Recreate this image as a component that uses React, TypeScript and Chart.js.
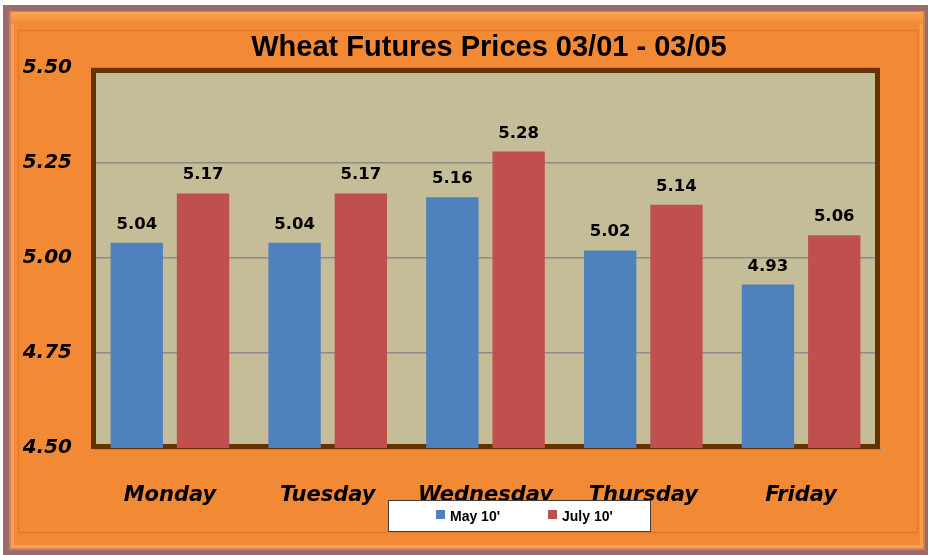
import React, { useEffect, useRef } from "react";
import { Chart, registerables } from "chart.js";

Chart.register(...registerables);

const TITLE = "Wheat Futures Prices 03/01 - 03/05";
const categories = ["Monday", "Tuesday", "Wednesday", "Thursday", "Friday"];
const seriesNames = ["May 10'", "July 10'"];
const may10 = [5.04, 5.04, 5.16, 5.02, 4.93];
const july10 = [5.17, 5.17, 5.28, 5.14, 5.06];
const yMin = 4.5;
const yMax = 5.5;
const yStep = 0.25;

const BLUE = "#4F81BD";
const RED = "#C0504D";

const framePlugin = {
  id: "frame",
  beforeDraw(chart: any) {
    const ctx = chart.ctx as CanvasRenderingContext2D;
    const W = chart.width;
    const H = chart.height;
    ctx.save();
    ctx.fillStyle = "#ffffff";
    ctx.fillRect(0, 0, W, H);
    ctx.fillStyle = "#9E6A6A";
    ctx.fillRect(3, 5, W - 3, H - 5);
    ctx.fillStyle = "#C7865A";
    ctx.fillRect(9, 11, W - 12, H - 16);
    ctx.fillStyle = "#FF9E4E";
    ctx.fillRect(11, 12, W - 16, H - 19);
    ctx.fillStyle = "#F28A35";
    ctx.fillRect(14, 20, W - 22, H - 30);
    const g = ctx.createLinearGradient(0, 12, 0, 24);
    g.addColorStop(0, "#FFA552");
    g.addColorStop(1, "#F28A35");
    ctx.fillStyle = g;
    ctx.fillRect(11, 12, W - 16, 12);
    ctx.strokeStyle = "#E07A28";
    ctx.lineWidth = 1.5;
    ctx.strokeRect(18.5, 30.5, 899, 502);
    const ca = chart.chartArea;
    ctx.fillStyle = "#C4BD97";
    ctx.fillRect(ca.left, ca.top, ca.right - ca.left, ca.bottom - ca.top);
    ctx.restore();
  },
  beforeDatasetsDraw(chart: any) {
    const ctx = chart.ctx as CanvasRenderingContext2D;
    const ca = chart.chartArea;
    ctx.save();
    ctx.strokeStyle = "#8C8C8C";
    ctx.lineWidth = 2;
    ctx.beginPath();
    ctx.moveTo(ca.left + 2, ca.bottom + 1);
    ctx.lineTo(ca.right + 1, ca.bottom + 1);
    ctx.stroke();
    ctx.strokeStyle = "#663300";
    ctx.lineWidth = 5;
    ctx.strokeRect(ca.left + 2.5, ca.top + 2.5, ca.right - ca.left - 5, ca.bottom - ca.top - 4);
    ctx.restore();
  },
  afterDraw(chart: any) {
    const ctx = chart.ctx as CanvasRenderingContext2D;
    ctx.save();
    ctx.fillStyle = "#000000";
    ctx.font = 'bold 29px "Liberation Sans", Arial, sans-serif';
    ctx.textAlign = "center";
    ctx.textBaseline = "alphabetic";
    ctx.fillText(TITLE, 489, 56);

    ctx.font = 'bold 16.5px "DejaVu Sans", sans-serif';
    ctx.textAlign = "center";
    chart.data.datasets.forEach((ds: any, di: number) => {
      const meta = chart.getDatasetMeta(di);
      meta.data.forEach((el: any, i: number) => {
        ctx.fillText(Number(ds.data[i]).toFixed(2), el.x, el.y - 14);
      });
    });

    const lx = 388, ly = 500, lw = 263, lh = 32;
    ctx.fillStyle = "#ffffff";
    ctx.fillRect(lx, ly, lw, lh);
    ctx.strokeStyle = "#404040";
    ctx.lineWidth = 1;
    ctx.strokeRect(lx + 0.5, ly + 0.5, lw - 1, lh - 1);
    const items = [
      { x: 436, color: BLUE, text: seriesNames[0] },
      { x: 548, color: RED, text: seriesNames[1] },
    ];
    ctx.font = 'bold 14px "Liberation Sans", Arial, sans-serif';
    ctx.textAlign = "left";
    ctx.textBaseline = "middle";
    items.forEach((it) => {
      ctx.fillStyle = it.color;
      ctx.fillRect(it.x, 510, 9, 9);
      ctx.fillStyle = "#000000";
      ctx.fillText(it.text, it.x + 14, 517);
    });
    ctx.restore();
  },
};

export default function App() {
  const ref = useRef<HTMLCanvasElement | null>(null);
  useEffect(() => {
    if (!ref.current) return;
    const chart = new Chart(ref.current, {
      type: "bar",
      data: {
        labels: categories,
        datasets: [
          { label: seriesNames[0], data: may10, backgroundColor: BLUE, categoryPercentage: 0.84, barPercentage: 0.79 },
          { label: seriesNames[1], data: july10, backgroundColor: RED, categoryPercentage: 0.84, barPercentage: 0.79 },
        ],
      },
      options: {
        responsive: false,
        animation: false,
        layout: { padding: { left: 0, top: 68, right: 48, bottom: 37 } },
        plugins: {
          legend: { display: false },
          title: { display: false },
          tooltip: { enabled: false },
        },
        scales: {
          x: {
            clip: false,
            grid: { display: false, drawTicks: false },
            border: { display: false },
            ticks: {
              color: "#000000",
              padding: 35,
              font: { family: '"DejaVu Sans", sans-serif', size: 21, weight: "bold", style: "italic" },
            },
            afterFit: (s: any) => {
              s.height = 70;
            },
          },
          y: {
            min: yMin,
            max: yMax,
            grid: { color: "#8C8C8C", lineWidth: 1.5, drawTicks: false },
            border: { display: false },
            ticks: {
              stepSize: yStep,
              color: "#000000",
              padding: 19,
              font: { family: '"DejaVu Sans", sans-serif', size: 20, weight: "bold", style: "italic" },
              callback: (v: any) => Number(v).toFixed(2),
            },
            afterFit: (s: any) => {
              s.width = 91;
            },
          },
        },
      } as any,
      plugins: [framePlugin],
    });
    return () => chart.destroy();
  }, []);
  return (
    <div style={{ position: "fixed", left: 0, top: 0, width: 928, height: 555 }}>
      <canvas ref={ref} width={928} height={555} style={{ display: "block" }} />
    </div>
  );
}
